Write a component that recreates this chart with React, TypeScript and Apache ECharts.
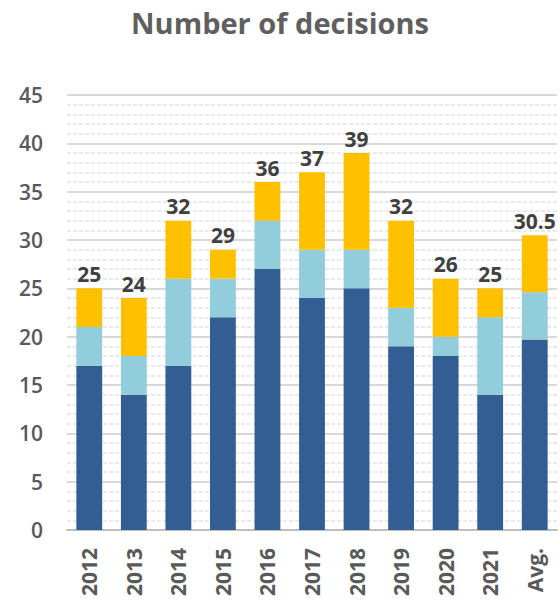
import React, { useEffect, useRef } from "react";
import * as echarts from "echarts";

const categories = ["2012", "2013", "2014", "2015", "2016", "2017", "2018", "2019", "2020", "2021", "Avg."];
const darkValues = [17, 14, 17, 22, 27, 24, 25, 19, 18, 14, 19.7];
const lightValues = [4, 4, 9, 4, 5, 5, 4, 4, 2, 8, 4.9];
const yellowValues = [4, 6, 6, 3, 4, 8, 10, 9, 6, 3, 5.9];
const totals = ["25", "24", "32", "29", "36", "37", "39", "32", "26", "25", "30.5"];

export default function App() {
  const ref = useRef<HTMLDivElement>(null);
  useEffect(() => {
    if (!ref.current) return;
    const chart = echarts.init(ref.current, undefined, { renderer: "svg" });
    const font = "'Open Sans', 'DejaVu Sans', sans-serif";
    chart.setOption({
      animation: false,
      title: {
        text: "Number of decisions",
        left: "center",
        top: 3,
        textStyle: { fontFamily: font, fontSize: 29, fontWeight: "bold", color: "#5f5f5f" },
      },
      grid: { left: 67, right: 3, top: 95, bottom: 75 },
      xAxis: {
        type: "category",
        data: categories,
        axisLine: { lineStyle: { color: "#bfbfbf", width: 2 } },
        axisTick: { show: false },
        axisLabel: {
          rotate: 90,
          fontFamily: font,
          fontSize: 21,
          fontWeight: "bold",
          color: "#595959",
          margin: 18,
        },
      },
      yAxis: {
        type: "value",
        min: 0,
        max: 45,
        interval: 5,
        axisLine: { show: false },
        axisTick: { show: false },
        axisLabel: {
          fontFamily: font,
          fontSize: 21,
          fontWeight: 600,
          color: "#595959",
          margin: 24,
        },
        splitLine: { lineStyle: { color: "#d9d9d9", width: 2 } },
        minorTick: { show: false, splitNumber: 5 },
        minorSplitLine: { show: true, lineStyle: { color: "#e3e3e3", width: 1.5, type: [4, 2] } },
      },
      series: [
        {
          type: "bar",
          stack: "s",
          data: darkValues,
          barWidth: "58%",
          itemStyle: { color: "#335e93" },
        },
        {
          type: "bar",
          stack: "s",
          data: lightValues,
          itemStyle: { color: "#92cddc" },
        },
        {
          type: "bar",
          stack: "s",
          data: yellowValues,
          itemStyle: { color: "#ffc000" },
          label: {
            show: true,
            position: "top",
            distance: 4,
            formatter: (p: any) => totals[p.dataIndex],
            fontFamily: font,
            fontSize: 21,
            fontWeight: "bold",
            color: "#404040",
          },
        },
      ],
    });
    return () => chart.dispose();
  }, []);
  return (
    <div
      ref={ref}
      style={{ position: "absolute", left: 0, top: 0, width: 560, height: 605 }}
    />
  );
}
